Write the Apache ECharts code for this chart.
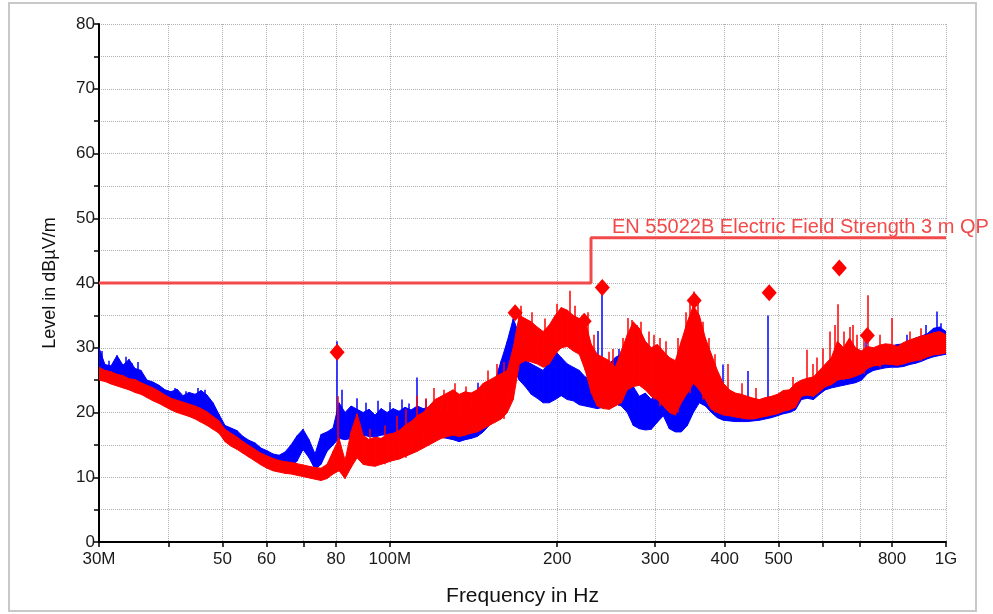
<!DOCTYPE html>
<html style="height: 100%; margin: 0;">
<head>
    <meta charset="utf-8" />
    <title>Radiated emission</title>
    <script src="https://cdn.jsdelivr.net/npm/echarts@6/dist/echarts.min.js"></script>
</head>
<body style="height: 100%; margin: 0; background: #fff;">
<div id="main" style="width: 993px; height: 614px;"></div>
<script type="text/javascript">
// sample frequencies in MHz (shared by both traces)
var freqs = [30, 30.75, 31.53, 32.32, 33.13, 33.97, 34.82, 35.70, 36.60, 37.52, 38.46, 39.43, 40.42, 41.44, 42.48, 43.55, 44.65, 45.77, 46.92, 48.10,
    49.31, 50.55, 51.82, 53.13, 54.46, 55.83, 57.24, 58.68, 60.15, 61.67, 63.22, 64.81, 66.44, 68.11, 69.82, 71.58, 73.38, 75.23, 77.12, 79.06,
    81.05, 83.09, 85.18, 87.33, 89.52, 91.78, 94.09, 96.45, 98.88, 101.4, 103.9, 106.5, 109.2, 112.0, 114.8, 117.7, 120.6, 123.7, 126.8, 130.0,
    133.3, 136.6, 140.0, 143.6, 147.2, 150.9, 154.7, 158.6, 162.6, 166.7, 170.9, 175.2, 179.6, 184.1, 188.7, 193.5, 198.3, 203.3, 208.5, 213.7,
    219.1, 224.6, 230.3, 236.0, 242.0, 248.1, 254.3, 260.7, 267.3, 274.0, 280.9, 288.0, 295.2, 302.7, 310.3, 318.1, 326.1, 334.3, 342.7, 351.4,
    360.2, 369.3, 378.6, 388.1, 397.9, 407.9, 418.1, 428.7, 439.4, 450.5, 461.8, 473.5, 485.4, 497.6, 510.1, 523.0, 536.1, 549.6, 563.5, 577.7,
    592.2, 607.1, 622.4, 638.0, 654.1, 670.6, 687.4, 704.8, 722.5, 740.7, 759.3, 778.4, 798.0, 818.1, 838.7, 859.8, 881.5, 903.6, 926.4, 949.7,
    973.6, 1000];

// blue trace: lower / upper edge of the noise band (dBuV/m)
var blueLo = [25.5, 25.6, 25.0, 24.9, 24.6, 24.3, 24.0, 23.7, 23.2, 22.8, 22.3, 21.8, 21.3, 21.0, 20.8, 20.7, 20.6, 20.4, 20.1, 18.6,
    17.5, 16.2, 15.5, 15.0, 14.3, 13.7, 13.1, 12.6, 12.1, 11.7, 11.5, 11.3, 11.5, 12.5, 14.3, 13.0, 11.2, 12.0, 14.0, 15.0,
    16.0, 15.8, 16.0, 16.2, 16.5, 16.3, 16.2, 16.5, 16.6, 16.8, 16.6, 16.8, 16.6, 16.8, 16.6, 16.5, 16.3, 16.2, 16.0, 15.8,
    15.5, 15.8, 16.0, 16.3, 17.0, 18.0, 19.5, 21.0, 24.0, 27.0, 25.0, 24.0, 22.8, 22.2, 21.5, 21.5, 22.0, 22.6, 22.0, 21.8,
    21.2, 21.0, 20.8, 20.6, 20.8, 21.0, 21.5, 21.0, 20.0, 18.0, 17.5, 17.3, 17.4, 18.5, 19.5, 17.5, 17.0, 17.0, 18.0, 20.0,
    21.5, 21.0, 20.0, 19.2, 18.8, 18.7, 18.6, 18.6, 18.6, 18.7, 18.8, 19.0, 19.2, 19.5, 19.8, 20.0, 20.4, 22.0, 22.2, 22.0,
    22.8, 23.5, 23.8, 24.0, 24.2, 24.4, 24.6, 25.0, 26.0, 26.5, 26.7, 26.9, 27.0, 27.0, 27.1, 27.4, 27.6, 27.9, 28.3, 28.6,
    28.8, 29.0];
var blueHi = [30.0, 27.4, 27.2, 28.8, 27.3, 28.2, 26.8, 26.5, 25.0, 24.7, 24.2, 23.5, 23.2, 23.6, 22.6, 23.1, 22.8, 23.4, 22.7, 21.5,
    19.7, 18.0, 17.6, 17.2, 16.3, 15.7, 15.3, 14.5, 14.1, 13.6, 13.4, 13.9, 15.0, 16.4, 17.4, 15.8, 13.6, 16.6, 17.0, 17.6,
    21.5, 20.0, 21.0, 20.5, 20.0, 20.5, 19.6, 20.6, 20.0, 20.6, 20.2, 20.8, 20.4, 21.0, 20.6, 20.8, 20.5, 20.0, 19.8, 19.5,
    19.5, 19.8, 20.2, 20.5, 21.5, 23.5, 25.0, 28.0, 31.0, 34.5, 32.0, 28.0, 27.5, 27.0, 26.5, 28.0, 29.5, 28.5, 27.5, 27.0,
    26.5, 25.5, 25.0, 24.5, 26.0, 27.5, 28.5, 29.0, 26.0, 24.0, 22.5, 23.0, 22.0, 23.5, 23.8, 22.0, 21.0, 21.5, 24.5, 28.8,
    27.0, 25.5, 24.5, 23.0, 22.5, 21.8, 21.5, 21.2, 22.0, 21.0, 21.2, 21.5, 21.6, 22.0, 22.8, 23.0, 24.0, 24.5, 24.8, 24.5,
    26.0, 26.5, 27.0, 28.0, 28.5, 28.5, 29.0, 29.5, 29.5, 29.8, 30.0, 30.0, 30.3, 30.5, 30.6, 31.0, 31.5, 31.8, 32.2, 33.0,
    33.2, 32.5];

// red trace: lower / upper edge of the noise band (dBuV/m)
var redLo = [25.0, 24.8, 24.4, 24.1, 23.8, 23.5, 23.1, 22.8, 22.3, 21.8, 21.4, 20.9, 20.4, 20.0, 19.7, 19.4, 19.0, 18.5, 18.0, 17.4,
    16.8, 15.5, 14.8, 14.3, 13.7, 13.1, 12.5, 11.9, 11.4, 11.0, 10.8, 10.6, 10.5, 10.3, 10.1, 9.9, 9.7, 9.5, 9.8, 10.5,
    11.0, 9.8, 11.5, 13.0, 12.0, 11.8, 11.7, 12.0, 12.3, 12.6, 12.8, 13.2, 13.6, 14.0, 14.5, 15.0, 15.5, 16.0, 16.3, 16.5,
    16.3, 16.5, 16.8, 17.0, 17.5, 18.0, 18.5, 19.0, 20.0, 22.0, 27.5, 28.0, 27.8, 27.5, 27.0, 27.5, 29.0, 30.0, 30.2, 29.5,
    29.0, 26.5, 23.0, 21.0, 20.6, 20.5, 21.0, 21.5, 23.5, 24.0, 24.2, 23.5, 22.5, 22.0, 21.0, 20.0, 19.6, 21.5, 23.0, 24.5,
    23.5, 22.0, 20.5, 20.0, 19.6, 19.5, 19.3, 19.2, 19.0, 19.0, 19.2, 19.4, 19.6, 19.8, 20.2, 20.4, 20.8, 22.5, 22.7, 22.5,
    23.2, 24.0, 24.3, 25.0, 25.2, 25.3, 25.6, 26.0, 26.8, 27.2, 27.3, 27.5, 27.4, 27.3, 27.5, 27.8, 28.0, 28.2, 28.6, 28.9,
    29.0, 29.2];
var redHi = [27.0, 26.5, 26.3, 25.9, 25.7, 25.2, 25.1, 24.6, 24.2, 23.8, 23.3, 22.7, 22.2, 21.9, 21.6, 21.3, 21.0, 20.6, 20.1, 19.4,
    18.7, 17.4, 16.8, 16.2, 15.5, 14.9, 14.3, 13.7, 13.3, 12.9, 12.6, 12.4, 12.3, 12.1, 11.9, 11.7, 11.5, 11.4, 12.0, 14.0,
    16.0, 12.6, 17.0, 19.8, 16.5, 15.8, 16.2, 16.0, 16.6, 16.8, 17.2, 18.0, 18.6, 19.5, 20.0, 21.0, 22.0, 22.5, 23.0, 23.5,
    22.8, 23.2, 23.0, 23.5, 24.5, 25.0, 25.5, 26.0, 26.5, 30.0, 35.0, 34.5, 34.0, 33.2, 32.5, 33.5, 35.0, 36.2, 35.8, 35.0,
    34.5, 34.0, 30.5, 29.0, 28.5, 28.0, 27.0, 29.5, 32.0, 34.0, 33.0, 31.0, 30.0, 30.5, 29.5, 28.5, 28.0, 31.0, 34.0, 36.5,
    35.0, 31.5, 29.0, 26.5, 24.5, 23.5, 23.0, 22.8, 22.5, 22.2, 22.0, 22.3, 22.5, 22.8, 23.4, 23.5, 24.5, 25.0, 25.3, 25.5,
    26.5, 27.5, 28.5, 31.0, 30.0, 31.5, 30.0, 29.5, 30.2, 30.0, 30.4, 30.6, 30.5, 30.2, 30.8, 31.2, 31.5, 31.8, 32.0, 32.3,
    32.5, 32.0];

// narrow spikes: [MHz, from, to]
var blueSpikes = [[30.4, 26, 29.5], [31.2, 25, 28.0], [33.5, 24, 28.6], [34.3, 24, 27.6], [35.2, 23.5, 27.8], [41, 21, 23.8],
    [43, 20.5, 23.3], [45.2, 20.5, 23.8], [46.5, 20, 23.5], [80.4, 17, 31.0], [81.9, 18, 23.5], [87.3, 18, 22.2],
    [90.5, 17, 21.5], [95, 17, 21.8], [100, 17, 21.6], [105, 17, 22.0], [108, 17, 21.4], [112, 19, 25.4], [116, 17, 22.0],
    [121, 17, 21.5], [128, 16, 21.0], [144, 18, 24.6], [236.8, 22, 32.6], [240.6, 22, 39.3], [258, 21, 29.8], [300, 19, 24.8],
    [397, 20, 27.4], [440, 20, 26.4], [479, 20, 35.0], [716, 27, 31.0], [850, 28, 32.0], [920, 29, 33.5], [963, 30, 35.6],
    [980, 30, 33.8]];
var redSpikes = [[80.6, 11, 22.5], [92, 12, 17.5], [98, 12, 18.0], [103, 13, 19.5], [107, 13, 20.5], [111.9, 15, 22.6],
    [116, 15, 22.2], [120, 16, 23.8], [125, 16, 23.5], [131, 17, 24.5], [137, 17, 24.0], [150, 18, 26.5], [156, 19, 27.5],
    [160, 19, 27.8], [172, 28, 36.5], [180, 28, 35.5], [190, 27, 34.5], [200, 30, 36.8], [210.7, 32, 38.8], [215, 30, 36.5],
    [227, 26, 35.5], [233, 22, 32.0], [247.5, 22, 29.4], [252, 21, 29.8], [262, 22, 31.5], [268, 24, 34.6], [272.5, 26, 34.3],
    [278, 26, 33.5], [283, 24, 34.0], [292, 23, 32.5], [298, 22, 32.0], [306, 21, 31.5], [314, 21, 31.0], [330, 20, 31.5],
    [340, 23, 35.5], [346, 23, 37.5], [352, 28, 38.7], [358, 24, 37.0], [366, 22, 34.0], [375, 21, 31.5], [384, 20, 29.0],
    [405, 20, 27.5], [430, 19, 24.5], [455, 19, 23.8], [530, 21, 25.5], [563, 23, 29.7], [575, 23, 27.5], [585, 23, 28.5],
    [600, 24, 29.9], [618, 25, 32.5], [630, 25, 33.5], [640, 26, 36.7], [655, 25, 32.5], [670, 26, 33.2], [680, 26, 33.5],
    [690, 26, 32.0], [710, 26, 31.5], [724, 27, 38.1], [760, 27, 32.0], [800, 28, 34.6], [860, 28, 32.5], [900, 28, 33.0]];

// final measurement points
var peakFreqs = [80.4, 168, 223.6, 241, 352.6, 481, 643, 722];
var peakLevels = [29.3, 35.4, 34.1, 39.3, 37.3, 38.5, 42.3, 31.9];

// limit line
var limitFreqs = [30, 230, 230, 1000];
var limitLevels = [40, 40, 47, 47];
var limitName = 'EN 55022B Electric Field Strength 3 m QP';

var xTickValues = [30, 40, 50, 60, 70, 80, 100, 200, 300, 400, 500, 600, 700, 800, 1000];
var xLabelValues = [30, 50, 60, 80, 100, 200, 300, 400, 500, 800, 1000];
var xLabelTexts = ['30M', '50', '60', '80', '100M', '200', '300', '400', '500', '800', '1G'];

var font = 'Liberation Sans, Arial, Helvetica, sans-serif';
var limitColor = '#f24a4a';

function pairs(xs, ys) {
    var out = [];
    for (var i = 0; i < xs.length; i++) out.push([xs[i], ys[i]]);
    return out;
}

// noise band: one filled quad between neighbouring samples
function bandSeries(lo, hi, color) {
    var data = [];
    for (var i = 0; i < freqs.length; i++) data.push([freqs[i], lo[i], hi[i]]);
    return {
        type: 'custom', silent: true, clip: true, data: data,
        encode: {x: 0, y: [1, 2]},
        renderItem: function (params, api) {
            var i = params.dataIndex;
            if (i >= freqs.length - 1) return;
            var pts = [
                api.coord([freqs[i], lo[i]]),
                api.coord([freqs[i], hi[i]]),
                api.coord([freqs[i + 1], hi[i + 1]]),
                api.coord([freqs[i + 1], lo[i + 1]])
            ];
            return {
                type: 'polygon', shape: {points: pts},
                style: {fill: color, stroke: color, lineWidth: 1}
            };
        }
    };
}

function spikeSeries(list, color) {
    var data = [];
    for (var i = 0; i < list.length; i++) {
        data.push({coords: [[list[i][0], list[i][1]], [list[i][0], list[i][2]]]});
    }
    return {
        type: 'lines', coordinateSystem: 'cartesian2d', silent: true, data: data,
        lineStyle: {color: color, width: 1.5, opacity: 1}
    };
}

var series = [
    bandSeries(blueLo, blueHi, '#0000ff'),
    spikeSeries(blueSpikes, '#0000ff'),
    bandSeries(redLo, redHi, '#ff0000'),
    spikeSeries(redSpikes, '#ff0000'),
    {
        type: 'line', data: pairs(limitFreqs, limitLevels), symbol: 'none', silent: true,
        lineStyle: {color: limitColor, width: 3}
    }, {
        type: 'scatter', data: pairs(peakFreqs, peakLevels), symbol: 'diamond', symbolSize: [15, 17],
        itemStyle: {color: '#ff0000', opacity: 1}, silent: true
    }
];

var myChart = echarts.init(document.getElementById('main'));
myChart.setOption({
    animation: false,
    backgroundColor: '#ffffff',
    grid: {left: 99, right: 47, top: 24, bottom: 72},
    xAxis: {
        type: 'log', logBase: 10, min: 30, max: 1000,
        name: 'Frequency in Hz', nameLocation: 'middle', nameGap: 44,
        nameTextStyle: {fontFamily: font, fontSize: 21, color: '#111'},
        axisLine: {lineStyle: {color: '#000', width: 2}},
        axisTick: {customValues: xTickValues, length: 5, lineStyle: {color: '#000', width: 1.5}},
        axisLabel: {
            customValues: xLabelValues, margin: 9, fontFamily: font, fontSize: 17, color: '#1a1a1a',
            formatter: function (v) {
                var k = xLabelValues.indexOf(Math.round(v));
                return k < 0 ? '' : xLabelTexts[k];
            }
        },
        splitLine: {show: true, lineStyle: {type: 'dotted', color: '#b0b0b0', width: 1}},
        minorTick: {show: false}
    },
    yAxis: {
        type: 'value', min: 0, max: 80, interval: 5,
        name: 'Level in dBµV/m', nameLocation: 'middle', nameGap: 40, nameRotate: 90,
        nameTextStyle: {fontFamily: font, fontSize: 18, color: '#111'},
        axisLine: {show: true, lineStyle: {color: '#000', width: 2}},
        axisTick: {show: true, length: 5, lineStyle: {color: '#000', width: 1.5}},
        axisLabel: {
            margin: 4, fontFamily: font, fontSize: 17, color: '#1a1a1a',
            formatter: function (v) { return v % 10 === 0 ? String(v) : ''; }
        },
        splitLine: {show: true, lineStyle: {type: 'dotted', color: '#b0b0b0', width: 1}}
    },
    graphic: [{
        type: 'rect', silent: true, z: -1,
        shape: {x: 9, y: 3, width: 967, height: 608},
        style: {fill: 'none', stroke: '#c8c8c8', lineWidth: 2}
    }, {
        type: 'text', left: 612, top: 217, silent: true, z: 100,
        style: {text: limitName, fill: limitColor, font: '20px ' + font}
    }],
    series: series
});
window.onresize = myChart.resize;
</script>
</body>
</html>
